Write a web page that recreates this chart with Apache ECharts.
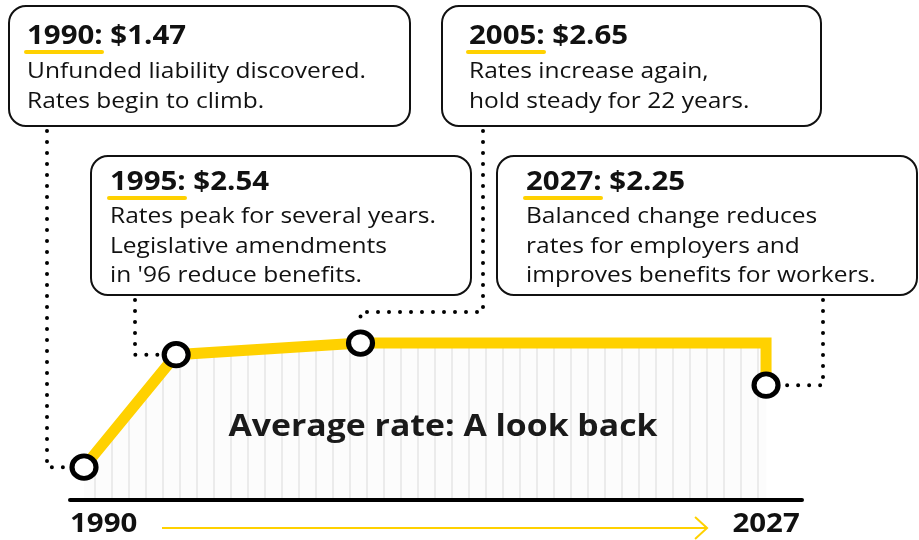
<!DOCTYPE html>
<html>
<head>
<meta charset="utf-8">
<title>Average rate: A look back</title>
<script src="https://cdn.jsdelivr.net/npm/echarts@6/dist/echarts.min.js"></script>
<style>
    html, body { margin: 0; padding: 0; background: #fff; }
    #main { width: 919px; height: 540px; }
</style>
</head>
<body>
<div id="main"></div>
<script>
// data
var years = [1990, 1995, 2005, 2027, 2027];
var rates = [1.47, 2.54, 2.65, 2.65, 2.25];
var showMarker = [true, true, true, false, true];
var axisLabels = ['1990', '2027'];
var chartTitle = 'Average rate: A look back';

var noteYears = ['1990', '1995', '2005', '2027'];
var noteRates = ['$1.47', '$2.54', '$2.65', '$2.25'];
var noteLines = [
    ['Unfunded liability discovered.', 'Rates begin to climb.'],
    ['Rates peak for several years.', 'Legislative amendments', "in '96 reduce benefits."],
    ['Rates increase again,', 'hold steady for 22 years.'],
    ['Balanced change reduces', 'rates for employers and', 'improves benefits for workers.']
];
var notePoint = [0, 1, 2, 4];

var yellow = '#FFD100',
    ink = '#111',
    font = '"Open Sans", "Noto Sans", sans-serif',
    stretch = 1.09; // the artwork is a little wider than tall

// layout of the note boxes (x, y, w, h, text left, title middle, line middles)
var boxes = [
    {x: 9, y: 6, w: 401, h: 120, tx: 27, ty: 36, ly: [72, 102]},
    {x: 91, y: 156, w: 380, h: 139, tx: 110, ty: 182, ly: [217, 247, 276]},
    {x: 442, y: 6, w: 379, h: 120, tx: 469, ty: 36, ly: [72, 102]},
    {x: 497, y: 156, w: 420, h: 139, tx: 526, ty: 182, ly: [217, 247, 276]}
];

// light vertical stripes under the line
function stripe_pattern() {
    var c = document.createElement('canvas');
    c.width = 17;
    c.height = 4;
    var ctx = c.getContext('2d');
    ctx.fillStyle = '#fcfcfc';
    ctx.fillRect(0, 0, 17, 4);
    ctx.fillStyle = '#ebebeb';
    ctx.fillRect(9, 0, 2, 4);
    return c;
}

var my_chart = echarts.init(document.getElementById('main'));

var lineData = years.map(function (y, i) {
    var item = {value: [y, rates[i]]};
    if (!showMarker[i]) item.symbol = 'none';
    return item;
});

var option = {
    backgroundColor: '#fff',
    animation: false,
    grid: {left: 70, right: 117, top: 300, bottom: 40.5},
    xAxis: {
        type: 'value',
        z: 4,
        min: 1989.24,
        max: 2028.95,
        axisLine: {show: true, lineStyle: {color: '#000', width: 4}},
        axisTick: {show: false},
        axisLabel: {show: false},
        splitLine: {show: false}
    },
    yAxis: {
        type: 'value',
        min: 1.162,
        max: 3.06,
        show: false,
        splitLine: {show: false}
    },
    series: [{
        type: 'line',
        data: lineData,
        z: 2,
        symbol: 'circle',
        symbolSize: [24, 22.5],
        itemStyle: {color: '#fff', borderColor: '#000', borderWidth: 5},
        lineStyle: {color: yellow, width: 11, join: 'miter', cap: 'butt'},
        areaStyle: {color: {image: stripe_pattern(), repeat: 'repeat'}, opacity: 1, origin: 'start'}
    }]
};

my_chart.setOption(option);

function text_el(x, y, text, fnt, align) {
    return {
        type: 'text', z: 12, x: x, y: y, scaleX: stretch,
        style: {text: text, font: fnt, fill: ink, align: align || 'left', verticalAlign: 'middle'}
    };
}

function build_graphic() {
    var els = [];
    var pts = years.map(function (y, i) {
        return my_chart.convertToPixel({gridIndex: 0}, [y, rates[i]]);
    });

    // dotted leaders from each box to its point
    var p0 = pts[notePoint[0]], p1 = pts[notePoint[1]], p2 = pts[notePoint[2]], p3 = pts[notePoint[3]];
    var paths = [
        [[47, 131], [47, p0[1]], [p0[0] - 16, p0[1]]],
        [[135, 300], [135, p1[1]], [p1[0] - 16, p1[1]]],
        [[483, 131], [483, 312], [p2[0], 312], [p2[0], p2[1] - 16]],
        [[823, 300], [823, p3[1]], [p3[0] + 20, p3[1]]]
    ];
    paths.forEach(function (pp) {
        els.push({
            type: 'polyline', z: 1,
            shape: {points: pp},
            style: {stroke: '#000', lineWidth: 4, lineDash: [0, 11], lineCap: 'round', fill: null}
        });
    });

    // note boxes
    boxes.forEach(function (b, i) {
        els.push({
            type: 'rect', z: 10,
            shape: {x: b.x, y: b.y, width: b.w, height: b.h, r: 17},
            style: {fill: '#fff', stroke: ink, lineWidth: 2}
        });
        els.push({
            type: 'line', z: 11,
            shape: {x1: b.tx - 1, y1: b.ty + 16, x2: b.tx + 75, y2: b.ty + 16},
            style: {stroke: yellow, lineWidth: 4, lineCap: 'round'}
        });
        els.push(text_el(b.tx, b.ty, noteYears[i] + ': ' + noteRates[i], 'bold 27px ' + font));
        noteLines[i].forEach(function (t, k) {
            els.push(text_el(b.tx, b.ly[k], t, '22.5px ' + font));
        });
    });

    // chart title
    var tt = text_el(443, 427, chartTitle, 'bold 31px ' + font, 'center');
    tt.style.fill = '#1a1a1a';
    els.push(tt);

    // axis end labels
    var xa = my_chart.convertToPixel({xAxisIndex: 0}, years[0]);
    var xb = my_chart.convertToPixel({xAxisIndex: 0}, years[years.length - 1]);
    els.push(text_el(70, 524, axisLabels[0], 'bold 27px ' + font));
    els.push(text_el(xb, 524, axisLabels[1], 'bold 27px ' + font, 'center'));

    // time arrow
    els.push({
        type: 'polyline', z: 1,
        shape: {points: [[xa + 78, 528], [xb - 59, 528]]},
        style: {stroke: yellow, lineWidth: 2, fill: null}
    });
    els.push({
        type: 'polyline', z: 1,
        shape: {points: [[xb - 71, 517], [xb - 59, 528], [xb - 71, 539]]},
        style: {stroke: yellow, lineWidth: 2, fill: null}
    });

    my_chart.setOption({graphic: els});
}

build_graphic();
</script>
</body>
</html>
